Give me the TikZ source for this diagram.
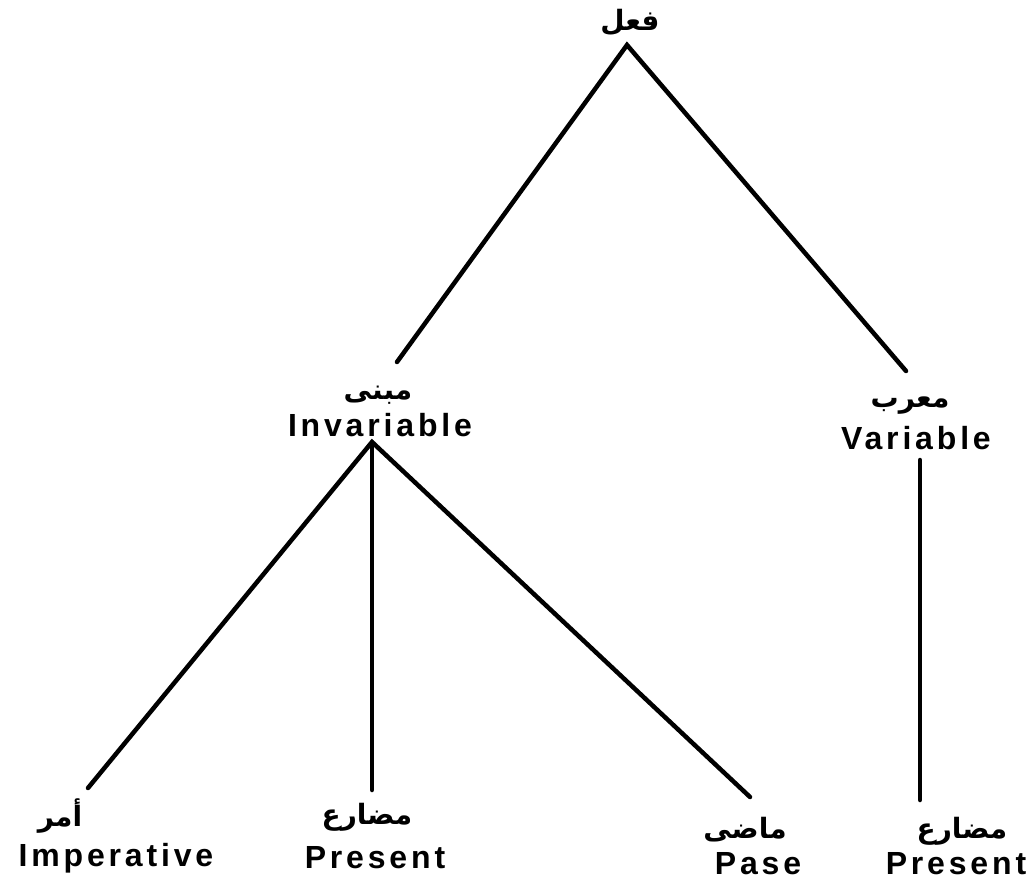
\documentclass[tikz,border=0pt]{standalone}
\usepackage{fontspec}
\setmainfont{Liberation Sans}[LetterSpace=12,BoldFont={Liberation Sans Bold}]
\newfontfamily\arabicfont[Script=Arabic]{DejaVu Sans}
\TeXXeTstate=1
\begin{document}
\begin{tikzpicture}[x=1pt,y=-1pt,
  lat/.style={font=\fontsize{32}{35}\selectfont\bfseries, inner sep=0pt},
  ara/.style={font=\fontsize{28}{32}\selectfont\arabicfont\bfseries, inner sep=0pt},
  edge/.style={line width=4.5pt, line cap=round}]
\useasboundingbox (0,0) rectangle (1029,880);
% labels
\node[ara] (fil) at (630,22) {\beginR فعل\endR};
\node[ara] (mabni) at (378,395) {\beginR مبنى\endR};
\node[lat] (inv) at (380,425) {Invariable};
\node[ara] (murab) at (910,406) {\beginR معرب\endR};
\node[lat] (var) at (916,438) {Variable};
\node[ara] (amr) at (60,816) {\beginR أمر\endR};
\node[lat] (imp) at (116,858) {Imperative};
\node[ara] (mudA) at (367,817) {\beginR مضارع\endR};
\node[lat] (presA) at (375,858) {Present};
\node[ara] (madi) at (745,830) {\beginR ماضى\endR};
\node[lat] (pase) at (758,864) {Pase};
\node[ara] (mudB) at (962,831) {\beginR مضارع\endR};
\node[lat] (presB) at (956,864) {Present};
% connector ends
\coordinate (topapex) at (627,45);
\coordinate (invtop) at (397,362);
\coordinate (vartop) at (906,371);
\coordinate (invapex) at (372,442);
\coordinate (impend) at (88,788);
\coordinate (presAend) at (372,790);
\coordinate (paseend) at (750,797);
\coordinate (varbot) at (920,460);
\coordinate (presBend) at (920,800);
\draw[edge] (invtop) -- (topapex) -- (vartop);
\draw[edge] (impend) -- (invapex) -- (paseend);
\draw[edge] (invapex) -- (presAend);
\draw[edge] (varbot) -- (presBend);
\end{tikzpicture}
\end{document}
